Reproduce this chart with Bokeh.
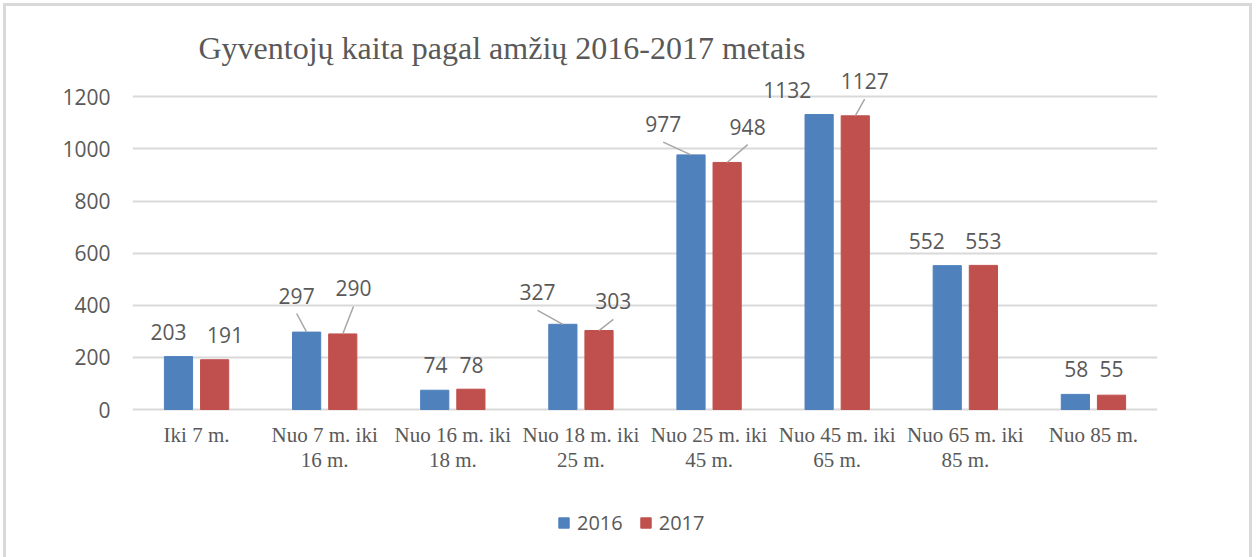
from bokeh.plotting import figure
from bokeh.models import FactorRange, Range1d, FixedTicker, Legend, LegendItem, ColumnDataSource
from bokeh.embed import file_html
from bokeh.resources import INLINE

# ---- data ----
categories = ["Iki 7 m.", "Nuo 7 m. iki\n16 m.", "Nuo 16 m. iki\n18 m.", "Nuo 18 m. iki\n25 m.",
              "Nuo 25 m. iki\n45 m.", "Nuo 45 m. iki\n65 m.", "Nuo 65 m. iki\n85 m.", "Nuo 85 m."]
v2016 = [203, 297, 74, 327, 977, 1132, 552, 58]
v2017 = [191, 290, 78, 303, 948, 1127, 553, 55]
series_names = ["2016", "2017"]
y_ticks = [0, 200, 400, 600, 800, 1000, 1200]
title_text = "Gyventojų kaita pagal amžių 2016-2017  metais"

# ---- layout / style ----
BL, BR, BT = 126, 92, 59
FRAME_W = 1025
PX_ABOVE = 344          # pixels from value 0 up to frame top
PX_BELOW = 148          # pixels from value 0 down to frame bottom (labels + legend area)
FRAME_H = PX_ABOVE + PX_BELOW
Y_MAX = 1320
PXX = FRAME_W / len(categories)
PXY = PX_ABOVE / Y_MAX
Y_MIN = -PX_BELOW / PXY
BAR_W = 0.22
OFFS = [-0.141, 0.141]
COLORS = ["#4f81bd", "#c0504d"]
TXT = "#595959"
GRID = "#d9d9d9"
SANS = "Open Sans"
SERIF = "Liberation Serif"

# data-label placement (screen px relative to bar top centre) and leader flags
lab_dx = [[-10, -10, 0.7, -25.3, -27.8, -31.9, -20.5, 1],
          [10.5, 10.7, 0.7, 14.3, 20.5, 9.4, 0, 0]]
lab_dy = [[24.6, 36.6, 25.4, 32, 30.7, 24.9, 24.7, 25],
          [24.7, 45.5, 24.4, 29.1, 35.8, 34.6, 24.4, 25.9]]
leader = [[0, 1, 0, 1, 1, 0, 0, 0],
          [0, 1, 0, 1, 1, 1, 0, 0]]

p = figure(x_range=FactorRange(factors=categories, range_padding=0),
           y_range=Range1d(Y_MIN, Y_MAX),
           frame_width=FRAME_W, frame_height=FRAME_H,
           output_backend="svg", toolbar_location=None,
           min_border_left=BL, min_border_right=BR, min_border_top=BT, min_border_bottom=0)
p.styles = {"border-left": "3px solid #d9d9d9", "border-top": "3px solid #d9d9d9",
            "border-right": "3px solid #d9d9d9", "margin-left": "3px", "margin-top": "3px"}
p.outline_line_color = None
p.background_fill_color = "white"
p.border_fill_color = "white"

p.title.text = title_text
p.title.text_font = SERIF
p.title.text_font_size = "32px"
p.title.text_font_style = "normal"
p.title.text_color = TXT
p.title.text_line_height = 1.0
p.title.align = "left"
p.title.offset = 66
p.title.standoff = 0

# axes
p.yaxis.ticker = FixedTicker(ticks=y_ticks)
p.yaxis.axis_line_color = None
p.yaxis.major_tick_line_color = None
p.yaxis.minor_tick_line_color = None
p.yaxis.major_label_text_font = SANS
p.yaxis.major_label_text_font_size = "21px"
p.yaxis.major_label_text_color = TXT
p.yaxis.major_label_standoff = 16

p.xaxis.visible = False
p.xgrid.grid_line_color = None
p.ygrid.ticker = FixedTicker(ticks=y_ticks)
p.ygrid.grid_line_color = GRID
p.ygrid.grid_line_width = 2

# category labels under the zero line, placed at the factor positions
cat_src = ColumnDataSource(dict(x=[i + 0.5 for i in range(len(categories))],
                                y=[-13 / PXY] * len(categories), t=categories))
p.text(x="x", y="y", text="t", source=cat_src, text_align="center", text_baseline="top",
       text_font={"value": SERIF}, text_font_size="21px", text_color=TXT, text_line_height=1.08)

items = []
for s, vals in enumerate([v2016, v2017]):
    xs = [i + 0.5 + OFFS[s] for i in range(len(categories))]
    src = ColumnDataSource(dict(x=xs, top=vals))
    r = p.vbar(x="x", top="top", width=BAR_W, bottom=0, source=src,
               fill_color=COLORS[s], line_color=COLORS[s], line_width=1)
    items.append(LegendItem(label=series_names[s], renderers=[r]))

    lx = [xs[i] + lab_dx[s][i] / PXX for i in range(len(vals))]
    ly = [vals[i] + lab_dy[s][i] / PXY for i in range(len(vals))]
    lsrc = ColumnDataSource(dict(x=lx, y=ly, t=[str(v) for v in vals]))
    p.text(x="x", y="y", text="t", source=lsrc, text_align="center", text_baseline="middle",
           text_font={"value": SANS}, text_font_size="21px", text_color=TXT)

    idx = [i for i in range(len(vals)) if leader[s][i]]
    segsrc = ColumnDataSource(dict(
        x0=[lx[i] for i in idx], y0=[ly[i] - 18 / PXY for i in idx],
        x1=[xs[i] for i in idx], y1=[vals[i] for i in idx]))
    p.segment(x0="x0", y0="y0", x1="x1", y1="y1", source=segsrc,
              line_color="#a6a6a6", line_width=1.5)

legend = Legend(items=items, orientation="horizontal", location=(425, 21),
                glyph_width=13, glyph_height=13, label_standoff=7, spacing=16,
                padding=0, margin=0, border_line_color=None, background_fill_alpha=0,
                label_text_font=SANS, label_text_font_size="20px", label_text_color=TXT,
                label_height=20)
p.add_layout(legend, "center")

open("out.html", "w").write(file_html(p, INLINE))
